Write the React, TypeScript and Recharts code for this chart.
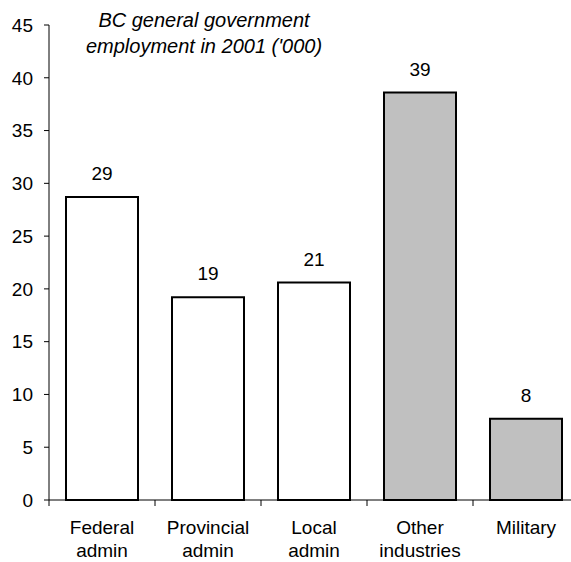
import React from 'react';
import { BarChart, Bar, XAxis, YAxis, Cell, LabelList } from 'recharts';

const categories = ['Federal admin', 'Provincial admin', 'Local admin', 'Other industries', 'Military'];
const employment = [28.7, 19.2, 20.6, 38.6, 7.7];
const fills = ['#ffffff', '#ffffff', '#ffffff', '#c0c0c0', '#c0c0c0'];
const yTicks = [0, 5, 10, 15, 20, 25, 30, 35, 40, 45];

const data = categories.map((name, i) => ({ name, value: employment[i] }));

const FONT = '"Liberation Sans", Arial, sans-serif';
const BAND = 106;

const CategoryTick = ({ x, y, payload }: any) => {
    const words = String(payload.value).split(' ');
    const left = x - BAND / 2;
    return (
        <g>
            <line x1={left} y1={y - 8} x2={left} y2={y - 2} stroke="#000" strokeWidth={1} />
            <text x={x} y={y + 26} textAnchor="middle" fontSize={19} fontFamily={FONT} fill="#000">
                {words.map((w: string, i: number) => (
                    <tspan key={i} x={x} dy={i === 0 ? 0 : 23}>
                        {w}
                    </tspan>
                ))}
            </text>
        </g>
    );
};

export default function App() {
    return (
        <div style={{ position: 'absolute', left: 0, top: 0, width: 571, height: 562, overflow: 'hidden', background: '#fff' }}>
            <BarChart width={582} height={562} data={data} margin={{ top: 25, right: 3, left: 0, bottom: 12 }}>
                <YAxis
                    domain={[0, 45]}
                    ticks={yTicks}
                    width={49}
                    tickSize={5}
                    tickMargin={11}
                    axisLine={{ stroke: '#000' }}
                    tickLine={{ stroke: '#000' }}
                    tick={{ fontSize: 19, fill: '#000', fontFamily: FONT }}
                    interval={0}
                />
                <XAxis
                    dataKey="name"
                    height={50}
                    interval={0}
                    axisLine={{ stroke: '#000' }}
                    tickLine={false}
                    tick={<CategoryTick />}
                />
                <Bar dataKey="value" barSize={72} stroke="#000" strokeWidth={2} isAnimationActive={false}>
                    {data.map((d, i) => (
                        <Cell key={d.name} fill={fills[i]} />
                    ))}
                    <LabelList
                        dataKey="value"
                        position="top"
                        offset={17}
                        formatter={(v: any) => Math.round(Number(v))}
                        style={{ fontSize: 19, fill: '#000', fontFamily: FONT }}
                    />
                </Bar>
            </BarChart>
            <div
                style={{
                    position: 'absolute',
                    left: 54,
                    top: 7,
                    width: 300,
                    textAlign: 'center',
                    fontFamily: FONT,
                    fontStyle: 'italic',
                    fontSize: 20,
                    lineHeight: '26px',
                    color: '#000',
                }}
            >
                BC general government
                <br />
                employment in 2001 ('000)
            </div>
        </div>
    );
}
